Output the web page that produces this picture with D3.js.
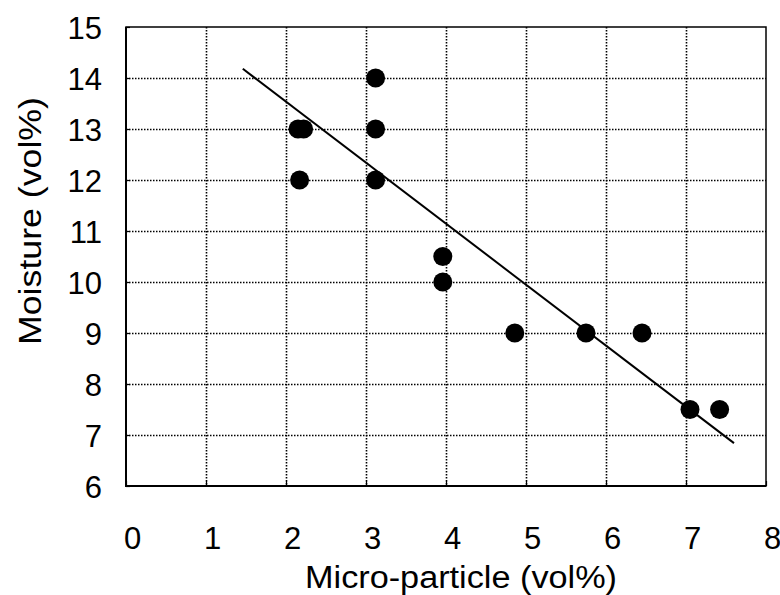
<!DOCTYPE html>
<html><head><meta charset="utf-8">
<script src="https://cdn.jsdelivr.net/npm/d3@7"></script>
<style>body{margin:0;background:#fff}svg{display:block}text{font-family:"Liberation Sans",Arial,sans-serif;fill:#000}</style>
</head><body><svg id="c" width="780" height="595"></svg>
<script>
const xTicks=[0,1,2,3,4,5,6,7,8];
const yTicks=[6,7,8,9,10,11,12,13,14,15];
const microParticle=[2.15,2.22,2.17,3.12,3.12,3.12,3.96,3.96,4.86,5.75,6.45,7.05,7.42];
const moisture=[13,13,12,14,13,12,10.5,10,9,9,9,7.5,7.5];
const trendX=[1.46,7.6];
const trendY=[14.18,6.84];
const xTitle="Micro-particle (vol%)";
const yTitle="Moisture (vol%)";

const svg=d3.select("#c");
const L=126,R=766,T=27,B=486;
const x=d3.scaleLinear().domain([0,8]).range([L,R]);
const y=d3.scaleLinear().domain([6,15]).range([B,T]);

// grid
svg.append("g").selectAll("line").data(xTicks.slice(1,-1)).join("line")
 .attr("x1",d=>Math.round(x(d))+0.5).attr("x2",d=>Math.round(x(d))+0.5).attr("y1",T).attr("y2",B)
 .attr("stroke","#000").attr("stroke-width",1.6).attr("stroke-dasharray","1.5,1.5");
svg.append("g").selectAll("line").data(yTicks.slice(1,-1)).join("line")
 .attr("y1",d=>Math.round(y(d))+0.5).attr("y2",d=>Math.round(y(d))+0.5).attr("x1",L).attr("x2",R)
 .attr("stroke","#000").attr("stroke-width",1.6).attr("stroke-dasharray","1.5,1.5");

// frame
svg.append("rect").attr("x",L).attr("y",T).attr("width",R-L).attr("height",B-T)
 .attr("fill","none").attr("stroke","#000").attr("stroke-width",1.5);
svg.append("line").attr("x1",L).attr("x2",L).attr("y1",T).attr("y2",B+1).attr("stroke","#000").attr("stroke-width",2);
svg.append("line").attr("x1",L).attr("x2",R).attr("y1",B).attr("y2",B).attr("stroke","#000").attr("stroke-width",2);

// axes (small inner ticks, labels)
const xa=svg.append("g").attr("transform",`translate(0,${B})`)
 .call(d3.axisBottom(x).tickValues(xTicks).tickSize(-5).tickPadding(0).tickFormat(d3.format("d")));
xa.select(".domain").remove();
xa.selectAll("line").attr("stroke","#000").attr("stroke-width",1.2);
xa.selectAll("text").attr("font-size",31).attr("y",0).attr("dy",63).attr("dx",6)
 .attr("font-family","'Liberation Sans',Arial,sans-serif").attr("fill","#000");

const ya=svg.append("g").attr("transform",`translate(${L},0)`)
 .call(d3.axisLeft(y).tickValues(yTicks).tickSize(-4).tickPadding(0).tickFormat(d3.format("d")));
ya.select(".domain").remove();
ya.selectAll("line").attr("stroke","#000").attr("stroke-width",1.2);
ya.selectAll("text").attr("font-size",31).attr("x",-24).attr("dy","0.38em")
 .attr("font-family","'Liberation Sans',Arial,sans-serif").attr("fill","#000");

// trend line
svg.append("line").attr("x1",x(trendX[0])).attr("y1",y(trendY[0]))
 .attr("x2",x(trendX[1])).attr("y2",y(trendY[1]))
 .attr("stroke","#000").attr("stroke-width",2);

// points
svg.append("g").selectAll("circle").data(microParticle.map((d,i)=>[d,moisture[i]])).join("circle")
 .attr("cx",d=>x(d[0])).attr("cy",d=>y(d[1])).attr("r",9.5).attr("fill","#000");

// titles
svg.append("text").attr("x",461).attr("y",588).attr("text-anchor","middle")
 .attr("font-size",31).attr("textLength",312).attr("lengthAdjust","spacingAndGlyphs").text(xTitle);
svg.append("text").attr("transform","translate(41,221) rotate(-90)").attr("text-anchor","middle")
 .attr("font-size",31).attr("textLength",248).attr("lengthAdjust","spacingAndGlyphs").text(yTitle);
</script></body></html>
